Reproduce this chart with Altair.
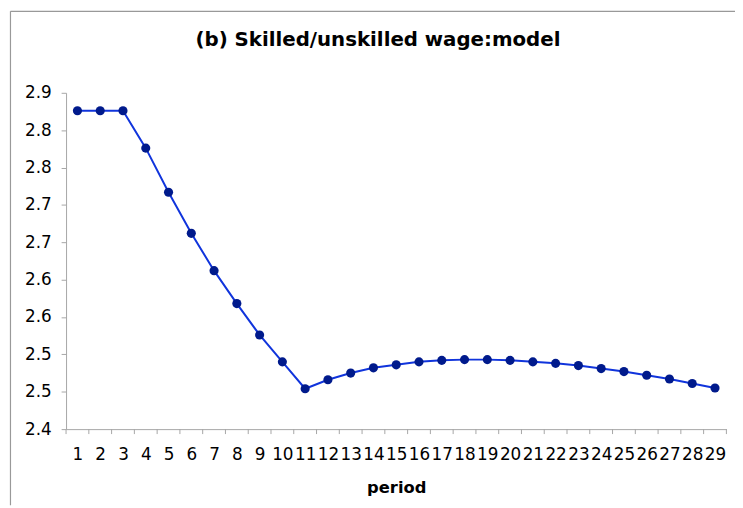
import altair as alt
import pandas as pd

# Data
periods = list(range(1, 30))
wage_ratio = [2.826, 2.826, 2.826, 2.776, 2.717, 2.662, 2.612, 2.568, 2.526, 2.490,
              2.454, 2.466, 2.475, 2.482, 2.486, 2.490, 2.492, 2.493, 2.493, 2.492,
              2.490, 2.488, 2.485, 2.481, 2.477, 2.472, 2.467, 2.461, 2.455]
y_ticks = [2.40, 2.45, 2.50, 2.55, 2.60, 2.65, 2.70, 2.75, 2.80, 2.85]
x_boundaries = [p - 0.5 for p in periods] + [periods[-1] + 0.5]
title_text = ["(b) Skilled/unskilled wage:model"]

df = pd.DataFrame({"period": periods, "ratio": wage_ratio})
bdf = pd.DataFrame({"b": x_boundaries})
tdf = pd.DataFrame({"t": title_text})

W, H = 667.6, 340
PAD_L, PAD_T = 58.7, 83
AXIS_GRAY = "#a6a6a6"
FONT = "DejaVu Sans"

x_scale = alt.Scale(domain=[0.5, 29.5], nice=False, zero=False)
y_scale = alt.Scale(domain=[2.40, 2.85], nice=False, zero=False)

x_axis = alt.Axis(values=periods, grid=False, ticks=False, domainColor=AXIS_GRAY,
                  labelFont=FONT, labelFontSize=17, labelColor="black",
                  labelOverlap=False, labelFlush=False, labelBound=False,
                  labelPadding=18, labelSeparation=0,
                  title="period", titleFont=FONT, titleFontSize=16.5,
                  titleFontWeight="bold", titleColor="black", titlePadding=17)
y_axis = alt.Axis(values=y_ticks, grid=False, tickSize=5, tickColor=AXIS_GRAY,
                  domainColor=AXIS_GRAY, labelFont=FONT, labelFontSize=17,
                  labelColor="black", labelPadding=10, labelFlush=False,
                  labelOverlap=False, labelBound=False,
                  labelExpr="format(datum.value + 0.0001, '.1f')", title=None)

base = alt.Chart(df)
line = base.mark_line(color="#1034dc", strokeWidth=2).encode(
    x=alt.X("period:Q", scale=x_scale, axis=x_axis),
    y=alt.Y("ratio:Q", scale=y_scale, axis=y_axis),
)
points = base.mark_point(filled=True, color="#001a8c", size=85, opacity=1).encode(
    x=alt.X("period:Q", scale=x_scale, axis=x_axis),
    y=alt.Y("ratio:Q", scale=y_scale, axis=y_axis),
)
ticks = alt.Chart(bdf).mark_rule(color=AXIS_GRAY, strokeWidth=1).encode(
    x=alt.X("b:Q", scale=x_scale, axis=x_axis),
    y=alt.value(H),
    y2=alt.value(H + 5),
)
one = alt.Data(values=[{"a": 1}])
left_border = alt.Chart(one).mark_rule(color="#999999", strokeWidth=1.2).encode(
    x=alt.value(2.5 - PAD_L), y=alt.value(-PAD_T + 0.5), y2=alt.value(500 - PAD_T)
)
top_border = alt.Chart(one).mark_rule(color="#999999", strokeWidth=1.2).encode(
    x=alt.value(2.5 - PAD_L), x2=alt.value(735 - PAD_L), y=alt.value(-PAD_T + 0.6)
)
title = alt.Chart(tdf).mark_text(font=FONT, fontSize=20, fontWeight="bold",
                                  color="black", align="center",
                                  baseline="alphabetic").encode(
    text="t:N", x=alt.value(382 - 8 - PAD_L), y=alt.value(43.5 - 8 - PAD_T)
)

chart = alt.layer(line, points, ticks, left_border, top_border, title).properties(
    width=W, height=H,
    autosize=alt.AutoSizeParams(type="none"),
    padding={"left": PAD_L, "top": PAD_T, "right": 735 - PAD_L - W, "bottom": 500 - PAD_T - H},
).configure_view(stroke=None)

chart.save("out.html", embed_options={"renderer": "svg", "actions": False})
